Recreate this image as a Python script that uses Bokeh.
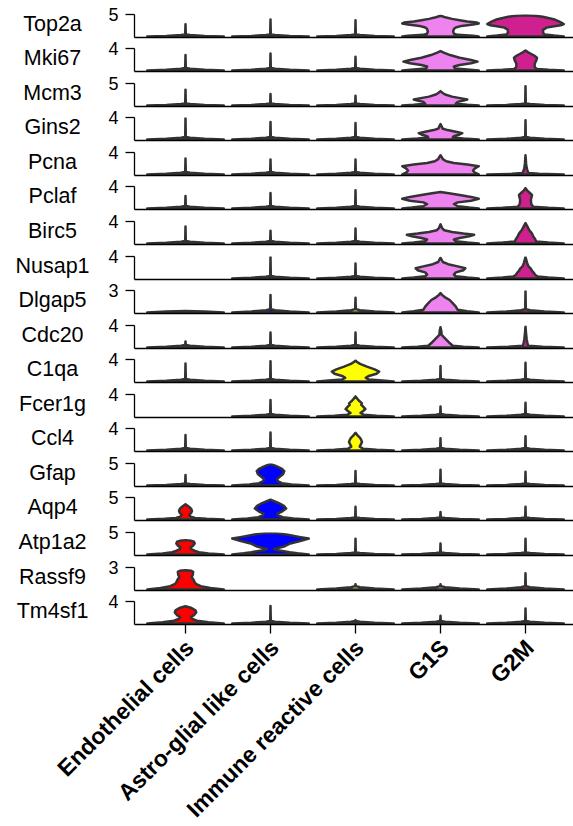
import math
from bokeh.plotting import figure
from bokeh.layouts import row, column
from bokeh.models import Range1d, FixedTicker, ColumnDataSource
from bokeh.core.properties import value
from bokeh.embed import file_html
from bokeh.resources import INLINE

# ---------------- data ----------------
genes = ["Top2a", "Mki67", "Mcm3", "Gins2", "Pcna", "Pclaf", "Birc5", "Nusap1",
         "Dlgap5", "Cdc20", "C1qa", "Fcer1g", "Ccl4", "Gfap", "Aqp4", "Atp1a2",
         "Rassf9", "Tm4sf1"]
cell_types = ["Endothelial cells", "Astro-glial like cells", "Immune reactive cells",
              "G1S", "G2M"]
cell_colors = ["#FF0000", "#0000FF", "#FFFF00", "#EE82EE", "#D02090"]
y_max_ticks = [5, 4, 5, 4, 4, 4, 4, 4, 3, 4, 4, 4, 4, 5, 5, 5, 3, 4]

# maximum expression of violins that are only a thin spike above the zero mass
# (None -> the full violin profile is given in violin_shapes)
spike_tops = {
    "Top2a":  [2.8, 3.85, 3.7, None, None],
    "Mki67":  [2.8, 3.1, 2.5, None, None],
    "Mcm3":   [3.6, 2.6, 2.2, None, 4.35],
    "Gins2":  [3.9, 3.2, 3.0, None, 3.5],
    "Pcna":   [2.9, 2.7, 2.7, None, None],
    "Pclaf":  [2.26, 2.8, 3.3, None, None],
    "Birc5":  [3.1, 2.3, 2.7, None, None],
    "Nusap1": [0.0, 3.95, 2.7, None, None],
    "Dlgap5": [0.2, 2.4, 2.0, None, 2.95],
    "Cdc20":  [1.1, 2.7, 2.7, None, None],
    "C1qa":   [3.25, 3.7, None, 2.8, 3.4],
    "Fcer1g": [0.0, 3.0, None, 1.8, 2.5],
    "Ccl4":   [2.8, 3.25, None, 2.2, 2.6],
    "Gfap":   [2.4, None, 3.3, 3.6, 3.1],
    "Aqp4":   [None, None, 2.9, 1.7, 2.9],
    "Atp1a2": [None, None, 3.6, 2.5, 3.6],
    "Rassf9": [None, 0.0, 0.7, 0.7, 2.2],
    "Tm4sf1": [None, 3.2, 0.6, 1.4, 2.7],
}

# full violin profiles: (expression values, relative density width)
violin_shapes = {
    ("Top2a", "G1S"): ([0, 0.15, 0.35, 0.6, 1.2, 1.8, 2.1, 2.4, 2.7, 2.95, 3.15, 3.4, 3.7, 4.0, 4.3, 4.55, 4.7],
                       [1.0, 0.85, 0.45, 0.35, 0.33, 0.36, 0.42, 0.55, 0.85, 1.0, 0.95, 0.7, 0.5, 0.3, 0.15, 0.06, 0]),
    ("Top2a", "G2M"): ([0, 0.2, 0.45, 0.8, 1.5, 2.0, 2.3, 2.55, 2.83, 3.3, 3.8, 4.1, 4.5, 4.7, 4.85],
                       [1.0, 0.75, 0.5, 0.46, 0.46, 0.55, 0.75, 0.92, 1.0, 0.9, 0.78, 0.65, 0.45, 0.25, 0]),
    ("Mki67", "G1S"): ([0, 0.15, 0.35, 0.7, 1.0, 1.3, 1.6, 1.9, 2.3, 2.8, 3.2, 3.53],
                       [1.0, 0.7, 0.38, 0.35, 0.5, 0.8, 0.97, 0.8, 0.5, 0.25, 0.1, 0]),
    ("Mki67", "G2M"): ([0, 0.1, 0.25, 0.6, 1.2, 1.8, 2.3, 2.6, 3.0, 3.35, 3.65],
                       [1.0, 0.6, 0.3, 0.24, 0.24, 0.28, 0.3, 0.25, 0.15, 0.06, 0]),
    ("Mcm3", "G1S"):  ([0, 0.15, 0.4, 0.8, 1.1, 1.35, 1.6, 2.0, 2.5, 2.9, 3.26],
                       [1.0, 0.7, 0.4, 0.45, 0.6, 0.7, 0.55, 0.3, 0.12, 0.05, 0]),
    ("Gins2", "G1S"): ([0, 0.15, 0.35, 0.6, 0.9, 1.15, 1.4, 1.7, 2.0, 2.4, 2.78],
                       [1.0, 0.6, 0.32, 0.35, 0.5, 0.57, 0.4, 0.18, 0.05, 0.03, 0]),
    ("Pcna", "G1S"):  ([0, 0.3, 0.7, 1.1, 1.5, 1.8, 2.1, 2.4, 2.8, 3.2, 3.48],
                       [1.0, 0.9, 0.85, 0.9, 1.0, 0.7, 0.35, 0.15, 0.06, 0.03, 0]),
    ("Pcna", "G2M"):  ([0, 0.1, 0.25, 0.7, 1.2, 2.0, 3.5],
                       [1.0, 0.35, 0.08, 0.05, 0.03, 0.015, 0]),
    ("Pclaf", "G1S"): ([0, 0.15, 0.4, 0.8, 1.1, 1.4, 1.75, 2.1, 2.45, 2.75, 3.0],
                       [1.0, 0.75, 0.45, 0.35, 0.45, 0.8, 1.0, 0.8, 0.5, 0.22, 0]),
    ("Pclaf", "G2M"): ([0, 0.1, 0.3, 0.8, 1.6, 2.1, 2.45, 2.9, 3.3, 3.7],
                       [1.0, 0.6, 0.2, 0.15, 0.14, 0.16, 0.17, 0.1, 0.04, 0]),
    ("Birc5", "G1S"): ([0, 0.15, 0.4, 0.7, 1.0, 1.3, 1.57, 1.8, 2.1, 2.4, 2.8, 3.48],
                       [1.0, 0.7, 0.4, 0.35, 0.5, 0.75, 0.88, 0.6, 0.3, 0.1, 0.04, 0]),
    ("Birc5", "G2M"): ([0, 0.15, 0.35, 0.8, 1.3, 1.8, 2.15, 2.4, 2.8, 3.2, 3.7],
                       [1.0, 0.6, 0.28, 0.25, 0.2, 0.17, 0.13, 0.1, 0.07, 0.04, 0]),
    ("Nusap1", "G1S"): ([0, 0.15, 0.4, 0.7, 1.1, 1.5, 1.85, 2.2, 2.6, 3.0, 3.4, 3.77],
                        [1.0, 0.7, 0.4, 0.35, 0.4, 0.6, 0.65, 0.45, 0.2, 0.06, 0.03, 0]),
    ("Nusap1", "G2M"): ([0, 0.15, 0.35, 0.6, 1.0, 1.4, 1.86, 2.1, 2.45, 2.9, 3.4, 3.88],
                        [1.0, 0.6, 0.32, 0.26, 0.22, 0.17, 0.13, 0.09, 0.06, 0.04, 0.02, 0]),
    ("Dlgap5", "G1S"): ([0, 0.15, 0.35, 0.8, 1.2, 1.7, 2.1, 2.4, 2.65],
                        [1.0, 0.7, 0.45, 0.4, 0.33, 0.24, 0.11, 0.04, 0]),
    ("Cdc20", "G1S"): ([0, 0.12, 0.3, 0.8, 1.3, 1.8, 2.3, 3.0, 3.7],
                       [1.0, 0.6, 0.32, 0.24, 0.17, 0.1, 0.03, 0.02, 0]),
    ("Cdc20", "G2M"): ([0, 0.12, 0.3, 0.8, 1.5, 2.5, 3.8],
                       [1.0, 0.45, 0.07, 0.05, 0.03, 0.015, 0]),
    ("C1qa", "Immune reactive cells"): ([0, 0.15, 0.35, 0.65, 1.0, 1.4, 1.8, 2.2, 2.7, 3.2, 3.6, 3.83],
                                        [1.0, 0.7, 0.35, 0.27, 0.35, 0.55, 0.62, 0.5, 0.3, 0.12, 0.03, 0]),
    ("Fcer1g", "Immune reactive cells"): ([0, 0.12, 0.3, 0.64, 1.0, 1.34, 1.8, 2.1, 2.38, 2.8, 3.2, 3.65],
                                          [1.0, 0.55, 0.22, 0.13, 0.2, 0.26, 0.2, 0.15, 0.17, 0.1, 0.05, 0]),
    ("Ccl4", "Immune reactive cells"): ([0, 0.12, 0.3, 0.7, 1.1, 1.5, 1.9, 2.3, 2.7, 3.2],
                                        [1.0, 0.55, 0.2, 0.11, 0.14, 0.17, 0.15, 0.12, 0.06, 0]),
    ("Gfap", "Astro-glial like cells"): ([0, 0.2, 0.5, 0.9, 1.45, 2.0, 2.6, 3.26, 3.8, 4.3, 4.7, 4.95],
                                         [1.0, 0.55, 0.3, 0.2, 0.17, 0.25, 0.33, 0.36, 0.3, 0.18, 0.07, 0]),
    ("Aqp4", "Endothelial cells"): ([0, 0.15, 0.35, 0.7, 1.1, 1.5, 1.9, 2.4, 2.9, 3.48],
                                    [1.0, 0.55, 0.25, 0.12, 0.1, 0.15, 0.17, 0.15, 0.09, 0]),
    ("Aqp4", "Astro-glial like cells"): ([0, 0.2, 0.5, 0.9, 1.3, 1.8, 2.5, 3.1, 3.7, 4.2, 4.5],
                                         [1.0, 0.6, 0.32, 0.2, 0.18, 0.3, 0.41, 0.35, 0.22, 0.08, 0]),
    ("Atp1a2", "Endothelial cells"): ([0, 0.2, 0.5, 0.8, 1.2, 1.6, 2.0, 2.5, 2.9, 3.1, 3.26],
                                      [1.0, 0.6, 0.35, 0.25, 0.15, 0.13, 0.2, 0.24, 0.22, 0.15, 0]),
    ("Atp1a2", "Astro-glial like cells"): ([0, 0.25, 0.5, 0.75, 1.0, 1.25, 1.8, 2.5, 3.1, 3.62, 4.0, 4.5, 4.8, 4.95],
                                           [1.0, 0.7, 0.5, 0.35, 0.15, 0.09, 0.35, 0.52, 0.8, 1.0, 0.75, 0.45, 0.2, 0]),
    ("Rassf9", "Endothelial cells"): ([0, 0.2, 0.45, 0.75, 1.0, 1.4, 1.7, 2.0, 2.4, 2.55, 2.63],
                                      [1.0, 0.65, 0.4, 0.27, 0.24, 0.2, 0.16, 0.19, 0.2, 0.15, 0]),
    ("Tm4sf1", "Endothelial cells"): ([0, 0.2, 0.5, 0.8, 1.15, 1.5, 2.0, 2.4, 2.8, 3.13],
                                      [1.0, 0.6, 0.3, 0.18, 0.14, 0.22, 0.28, 0.26, 0.16, 0]),
}

# zero-mass base of the thin violins
base_values = [0, 0.12, 0.3, 0.45]
base_widths = [1.0, 0.5, 0.12, 0.01]
spike_width = 0.008

# ---------------- layout ----------------
W, H = 573, 826
LABEL_W = 100
AXIS_X = 134
FRAME_H = 23
ROW0_BASE = 36.7
ROW_STEP = 34.55
TICK_BOTTOM = 634
HALF_W = 0.45
PX_PER_UNIT = 85.0
FONT = "Liberation Sans"
OUTLINE = "#333333"

baselines = [int(round(ROW0_BASE + ROW_STEP * i)) for i in range(len(genes))]
starts = [0] + [b + 2 for b in baselines[:-1]] + [TICK_BOTTOM]


def profile(gene, ci):
    ct = cell_types[ci]
    key = (gene, ct)
    if key in violin_shapes:
        return violin_shapes[key]
    top = spike_tops[gene][ci]
    vals = [v for v in base_values if v < top]
    wids = base_widths[:len(vals)]
    if top > base_values[-1]:
        wids = wids[:-1] + [spike_width]
    return vals + [top], wids + [0.0]


def outline(center, vals, wids):
    xs = [center + HALF_W * w for w in wids] + [center - HALF_W * w for w in reversed(wids)]
    ys = list(vals) + list(reversed(vals))
    return xs, ys


# gene name column
lab = figure(width=LABEL_W, height=TICK_BOTTOM, x_range=Range1d(0, LABEL_W),
             y_range=Range1d(0, TICK_BOTTOM),
             x_axis_type=None, y_axis_type=None, min_border=0,
             toolbar_location=None, output_backend="svg")
lab.outline_line_color = None
lab.text(x=[52] * len(genes), y=[TICK_BOTTOM - (b - 14) for b in baselines], text=genes,
         text_font=value(FONT), text_font_size=value("21.5px"), text_align="center",
         text_baseline="middle", text_color="black")

figs = []
n = len(genes)
frame_w = W - AXIS_X
for i, gene in enumerate(genes):
    T = y_max_ticks[i]
    h = starts[i + 1] - starts[i]
    top_b = baselines[i] - FRAME_H - starts[i]
    bot_b = starts[i + 1] - baselines[i]
    p = figure(width=W - LABEL_W, height=h,
               x_range=Range1d(0.4, 0.4 + frame_w / PX_PER_UNIT),
               y_range=Range1d(-0.05 * T, T),
               min_border_left=AXIS_X - LABEL_W, min_border_right=0,
               min_border_top=top_b, min_border_bottom=bot_b,
               toolbar_location=None, output_backend="svg")
    p.outline_line_color = None
    p.grid.visible = False

    xs, ys, cols = [], [], []
    for ci in range(len(cell_types)):
        vals, wids = profile(gene, ci)
        px, py = outline(ci + 1, vals, wids)
        xs.append(px)
        ys.append(py)
        cols.append(cell_colors[ci])
    src = ColumnDataSource(dict(xs=xs, ys=ys, color=cols))
    p.patches("xs", "ys", source=src, fill_color="color", line_color=OUTLINE,
              line_width=2.5, line_join="round")

    p.yaxis.ticker = FixedTicker(ticks=[T])
    p.yaxis.major_label_text_font = FONT
    p.yaxis.major_label_text_font_size = "18px"
    p.yaxis.major_label_text_color = "black"
    p.yaxis.major_tick_out = 9
    p.yaxis.major_tick_in = 0
    p.yaxis.minor_tick_line_color = None
    p.yaxis.major_label_standoff = 7
    p.yaxis.axis_line_width = 1.3
    p.yaxis.major_tick_line_width = 1.3
    p.yaxis.axis_line_color = "black"
    p.yaxis.major_tick_line_color = "black"

    p.xaxis.axis_line_width = 1.6
    p.xaxis.axis_line_color = "black"
    p.xaxis.minor_tick_line_color = None
    p.xaxis.major_label_standoff = 0
    p.xaxis.major_tick_in = 0
    p.xaxis.major_label_text_font_size = "1px"
    p.xaxis.major_label_text_color = None
    if i < n - 1:
        p.xaxis.ticker = FixedTicker(ticks=[])
        p.xaxis.major_tick_out = 0
    else:
        # tick marks only; the category names are drawn below, right-justified like ggplot
        p.xaxis.ticker = FixedTicker(ticks=list(range(1, len(cell_types) + 1)))
        p.xaxis.major_label_overrides = {k + 1: "" for k in range(len(cell_types))}
        p.xaxis.major_tick_out = 9
        p.xaxis.major_tick_line_width = 1.3
        p.xaxis.major_tick_line_color = "black"
    figs.append(p)

# category labels below the last panel, on the same x scale
bottom_h = H - TICK_BOTTOM
x0 = 0.4 - AXIS_X / PX_PER_UNIT
bot = figure(width=W, height=bottom_h, x_range=Range1d(x0, x0 + W / PX_PER_UNIT),
             y_range=Range1d(0, bottom_h), x_axis_type=None, y_axis_type=None,
             min_border=0, toolbar_location=None, output_backend="svg")
bot.outline_line_color = None
bot.text(x=[k + 1 - 5 / PX_PER_UNIT for k in range(len(cell_types))],
         y=[bottom_h] * len(cell_types),
         text=cell_types, angle=math.pi / 4, text_align="right", text_baseline="top",
         text_font=value(FONT), text_font_style="bold", text_font_size=value("23px"),
         text_color="black")

layout = column(row(lab, column(*figs)), bot)
open("out.html", "w").write(file_html(layout, INLINE))
